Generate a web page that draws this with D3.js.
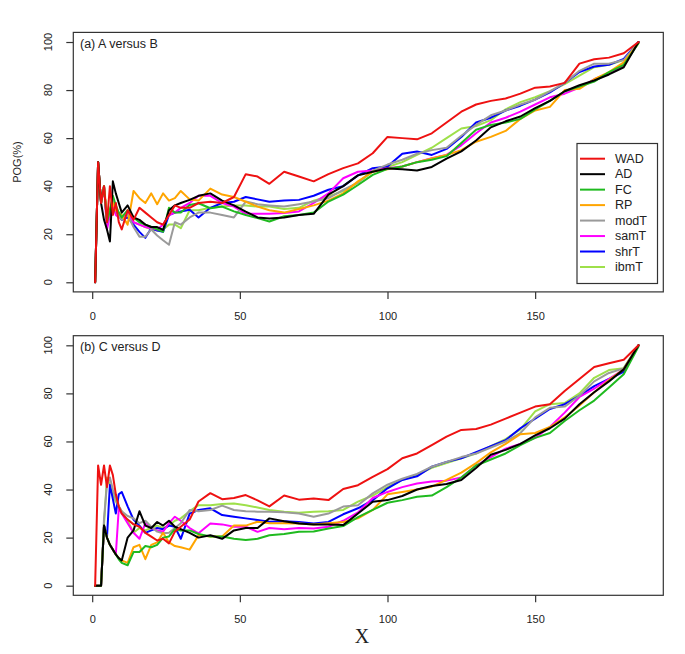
<!DOCTYPE html>
<html><head><meta charset="utf-8">
<script src="https://cdn.jsdelivr.net/npm/d3@7"></script>
<style>body{margin:0;background:#fff} text{font-family:"Liberation Sans",Arial,sans-serif;fill:#222}</style>
</head><body><svg id="c" width="685" height="654"></svg>
<script>
// ---------- data ----------
const xKnots = [1,2,3,4,5,6,7,8,9,10, 12,14,16,18,20,22,24,26,28,30,
  33,36,40,44,48,52,56,60,65,70,75,80,
  85,90,95,100,105,110,115,120,125,130,135,140,145,150,155,160,165,170,175,180,185];
const seriesNames = ["WAD","AD","FC","RP","modT","samT","shrT","ibmT"];
const xTicks = [0,50,100,150];
const yTicks = [0,20,40,60,80,100];
const panelTitles = ["(a) A versus B","(b) C versus D"];
const yLabel = "POG(%)";
const xLabel = "X";

// Panel (a)
const WAD_A = [0,50,33,40,25,40,28,33,25,22, 30,26,31,29,27,25,24,28,32,31,
  31,33,33.5,33,35.5,45,44,41,46,44,42,45,
  47.5,49.5,53.7,60.5,60,59.5,62,66.5,71,74,75.5,76.5,78.5,81,81.5,83,91,92.8,93.5,95.3,100];
const AD_A = [0,50,33,26,22,17,42,37,33,29, 32,27,26,24,23,23,21.8,30,32,33,
  34.3,36,37,34,32,29.4,27,26.5,27,28,28.5,36.5,
  40,44.5,46,47.4,47,46.5,48,51.5,54.5,59,64.5,67,69,72.5,75.5,79.5,82,84,86.5,89.5,100];
const FC_A = [0,50,33,40,25,30,36,32,29,27, 30,27,25,24,23,22,21,31,29,29,
  32.2,32.9,30.8,31.5,29.5,28,26.7,25.3,27.5,28,29,33.6,
  36.5,40.5,44.7,47.2,48.2,50,51,52.5,58,63.5,65.5,66.5,68,72,75.5,79.5,81.5,83.5,87.5,90.5,99.5];
const RP_A = [0,50,33,40,28,30,33,30,29,28, 24,38,35,33,37,32.5,37,34,35,38,
  34.5,34,39,36.5,35.5,33.5,31.5,30,29,30.5,32,34,
  37,42,46,47,48.2,50,51.5,53,55,58.5,60.5,63,68,71.5,73,80,80.5,84.5,87.5,91.5,99.5];
const modT_A = [0,50,33,40,25,30,35,30,28,26, 28,23,19,19,22,19.5,17.5,15.6,25,24,
  27,29,29,28,27,33.6,32.5,32,31.5,32.5,33.6,35,
  38.5,41.5,46.5,49,51,53.5,55,56,61,65.5,69.5,71.5,74,76,79.5,83,88,91,91,92.5,100];
const samT_A = [0,50,33,40,22,28,33,28,27,27, 29,25,24,23,22.5,22,24,28,29,31,
  33,36,36,33,31.5,28.5,28.5,28.5,28.8,29.5,33,37,
  43.3,46,46.5,47.5,48.2,50,51.6,53,57,62,66.5,68.5,71,74,77,78.5,81,84.5,87,90.5,100];
const shrT_A = [0,50,33,40,25,30,33,30,28,26, 27,24,21,18.5,22.5,21.5,21,28,29,29.5,
  30.2,27,31,33,33.5,35.5,34.5,33.5,34,34.3,36,38.5,
  40,44.5,47.5,48.2,53.5,54.4,53,55.5,60.5,66.5,68.5,71.5,73.5,76,79,83,87.5,89.8,90.5,93,100];
const ibmT_A = [0,50,33,40,25,30,33,30,28,26, 28,25,24,23,22,21.5,22,24,24,22.5,
  30,30,31,31.5,32,32,31.5,31.5,30.5,31,34,35.7,
  38,41.5,46,48,50,53,56,60,64,65,67.5,72,75,77,79.5,82.5,86,89.5,90.5,92.5,100];

// Panel (b)
const WAD_B = [0,50,42,50,41,50,46,38,33,30, 27.5,25.5,24.5,22,20.4,18.8,19.5,17.6,22.5,24.5,
  27.5,35,38.5,36,36.5,37.7,35.5,33,37.5,35.8,36.3,35.6,
  40.2,41.8,45.3,48.5,53,55,58.5,62,64.8,65.2,67,69.5,72,74.5,75.5,81,86,91,92.5,94,100];
const AD_B = [0,0,0,25,20,17,15,13,11.5,10.5, 20,23,31,25,24,26.5,25,27,24.5,23.5,
  22,20,21,19.5,23,24,24,28,26.8,25.9,25.5,25.5,
  25.2,30,34.9,35.6,37.3,40,41.5,42.3,44,49,54.5,56.5,59,62.5,65.5,69.5,75.5,80.5,85,90,100];
const FC_B = [0,0,0,25,20,17,15,13,11,9.5, 8.5,14,14,16.5,16,17,20,20.5,23.5,23,
  23,21.5,20.5,20.5,19.5,19,19.5,21,21.5,22.4,22.5,23.8,
  24.8,28.5,31.5,34.5,35.6,37,37.5,41,45,50,52.5,55,58.5,61.5,63.5,68.5,73,77,82.5,88,99.5];
const RP_B = [0,0,0,25,20,17,15,13,11.5,10.5, 9.5,16,17,11,17,18,22,18,16.5,16,
  15,21,20.5,20.5,25,25,26.6,26,26,25.9,25.5,26,
  26.5,28,31.5,38,39,40,41.2,44,47,51,55.5,59,63,63.5,66,70,75,80.5,85.5,90,100];
const modT_B = [0,0,0,28,42,45,40,36,33,31, 29,28,26,27,24.5,22.5,21.8,22,24,26,
  31.5,31,31.5,33.3,31.5,31,30.8,30.8,30.5,30,28.7,30,
  32.9,33.5,38.4,42,44.5,46.5,49.5,51.5,53.5,55,57.5,60,63.5,70,74,74.5,79,85,88.5,90.4,100];
const samT_B = [0,0,0,25,20,17,15,13,32,30, 26,22,19.5,26,24,23,22.5,26,28.7,27,
  24,21.8,25.9,25.5,24.5,24.5,22.4,24,23.5,24,23.8,24.5,
  27,30.5,36.5,39,41,42.5,43.3,43.7,45,50,53.5,57,59,61.5,66,72,78.5,82,86,90,100];
const shrT_B = [0,0,0,25,20,42,36,30,38,39, 33,27.5,25,22,23,24,23.5,25,24.5,19.5,
  30,31.5,32.2,29.4,28.7,28,27.3,26.6,26.8,26.5,25.9,26.5,
  29.7,32.2,35.6,40.5,44,45.5,49.5,51.5,53,55.5,58,60.5,65.5,69.5,73.5,75.5,79,83,86,89,100];
const ibmT_B = [0,0,0,25,45,42,38,35,33,31, 27,22,24,23,24,25,24,25,27,28,
  31,33.5,33.5,34,34.2,33.5,32.5,31.5,30.8,30.3,30.8,31,
  31.5,35,37.5,41,44,46,49,51,53,55,58,61,65,72.5,75.5,76,80,86.5,89.7,90.5,100];

const panelSeries = [
  [WAD_A, AD_A, FC_A, RP_A, modT_A, samT_A, shrT_A, ibmT_A],
  [WAD_B, AD_B, FC_B, RP_B, modT_B, samT_B, shrT_B, ibmT_B]
];

// ---------- style / layout ----------
const colors = ["#ee1111","#000000","#1fba1f","#ffa500","#9a9a9a","#ff00ff","#0000ff","#9ee04a"];
const svg = d3.select("#c");
svg.append("rect").attr("width",685).attr("height",654).attr("fill","#fff");

const x = d3.scaleLinear().domain([-6.4, 193.4]).range([73.3, 663.3]);
const panels = [
  {top:32.4, bottom:291.9, title:panelTitles[0], titleY:47.5},
  {top:335.7, bottom:595.3, title:panelTitles[1], titleY:351}
];

panels.forEach((p, pi) => {
  const y = d3.scaleLinear().domain([-4, 104]).range([p.bottom, p.top]);
  const g = svg.append("g");

  // lines, drawn in reverse legend order so WAD ends on top
  const line = d3.line().x(d => x(d[0])).y(d => y(d[1]));
  for (let s = seriesNames.length - 1; s >= 0; s--) {
    const vals = panelSeries[pi][s];
    const pts = xKnots.map((k, i) => [k, vals[i]]);
    g.append("path").attr("d", line(pts)).attr("fill","none")
      .attr("stroke", colors[s]).attr("stroke-width", 2)
      .attr("stroke-linejoin","round").attr("stroke-linecap","round");
  }

  // box
  g.append("rect").attr("x", x.range()[0]).attr("y", p.top)
    .attr("width", x.range()[1]-x.range()[0]).attr("height", p.bottom-p.top)
    .attr("fill","none").attr("stroke","#333").attr("stroke-width",1.2);

  // x axis
  const ax = g.append("g").attr("transform", `translate(0,${p.bottom})`)
    .call(d3.axisBottom(x).tickValues(xTicks).tickSize(7).tickSizeOuter(0).tickPadding(13));
  ax.select(".domain").remove();
  ax.selectAll("line").attr("stroke","#333").attr("stroke-width",1.2);
  ax.selectAll("text").style("font-size","11px").style("font-family","Liberation Sans, Arial, sans-serif").attr("fill","#222");

  // y axis (ticks) + rotated labels
  const ay = g.append("g").attr("transform", `translate(${x.range()[0]},0)`)
    .call(d3.axisLeft(y).tickValues(yTicks).tickSize(7).tickSizeOuter(0).tickFormat(""));
  ay.select(".domain").remove();
  ay.selectAll("line").attr("stroke","#333").attr("stroke-width",1.2);
  g.selectAll(".ylab").data(yTicks).enter().append("text")
    .attr("transform", d => `translate(52,${y(d)}) rotate(-90)`)
    .attr("text-anchor","middle").style("font-size","11px").text(d => d);

  // panel title
  g.append("text").attr("x", 80).attr("y", p.titleY).style("font-size","12.5px").text(p.title);
});

// y label (panel a only)
svg.append("text").attr("transform","translate(21,162) rotate(-90)")
  .attr("text-anchor","middle").style("font-size","11px").text(yLabel);

// x label
svg.append("text").attr("x", 362).attr("y", 643).attr("text-anchor","middle")
  .style("font-family","Liberation Serif, Times New Roman, serif").style("font-size","20px").text(xLabel);

// legend
const lg = svg.append("g");
lg.append("rect").attr("x",577).attr("y",143.5).attr("width",80.5).attr("height",140)
  .attr("fill","#fff").attr("stroke","#333").attr("stroke-width",1.2);
seriesNames.forEach((n, i) => {
  const yy = 158.7 + i*15.47;
  lg.append("line").attr("x1",580).attr("x2",605).attr("y1",yy).attr("y2",yy)
    .attr("stroke",colors[i]).attr("stroke-width",2);
  lg.append("text").attr("x",615).attr("y",yy).attr("dominant-baseline","central")
    .style("font-size","12.5px").text(n);
});
</script></body></html>
